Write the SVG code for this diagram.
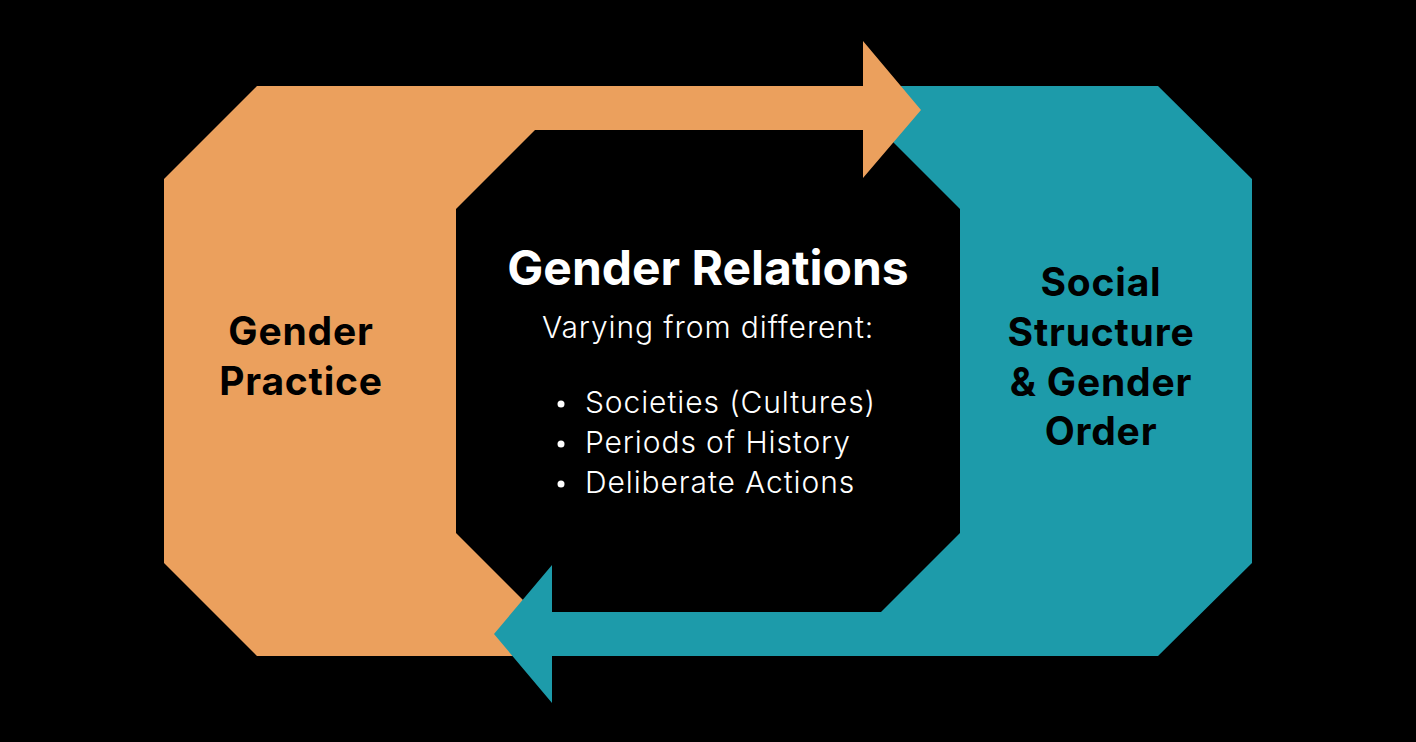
<svg xmlns="http://www.w3.org/2000/svg" width="1416" height="742" viewBox="0 0 1416 742">
<style>
.orange{fill:#EBA05D}
.teal{fill:#1D9BAA}
.lbl{font-family:Inter,"Open Sans","Liberation Sans",sans-serif;font-weight:700;fill:#000;text-anchor:middle;font-size:39px;letter-spacing:0.8px}
.title{font-family:Inter,"Open Sans","Liberation Sans",sans-serif;font-weight:700;fill:#fff;text-anchor:middle;font-size:48px}
.body{font-family:Inter,"Open Sans","Liberation Sans",sans-serif;font-weight:300;fill:#fff;font-size:30px;letter-spacing:0.9px}
</style>
<rect width="1416" height="742" fill="#000"/>
<g id="gender-practice">
<polygon class="orange" points="257,86 720,86 720,130 535,130 456,209 456,533 535,612 560,612 560,656 257,656 164,563 164,179"/>
<text class="lbl" x="301" y="345">Gender</text>
<text class="lbl" x="301" y="395">Practice</text>
</g>
<g id="social-structure">
<polygon class="teal" points="836,86 1158,86 1252,179 1252,563 1158,656 700,656 700,612 881,612 960,533 960,209 881,130"/>
<text class="lbl" x="1101" y="296">Social</text>
<text class="lbl" x="1101" y="346">Structure</text>
<text class="lbl" x="1101" y="396">&amp; Gender</text>
<text class="lbl" x="1101" y="445">Order</text>
</g>
<g id="connectors">
<polygon class="orange" points="600,86 863,86 863,41 921,110 863,178 863,130 600,130"/>
<polygon class="teal" points="800,612 552,612 552,565 494,634 552,703 552,656 800,656"/>
</g>
<g id="gender-relations">
<text class="title" x="708" y="285">Gender Relations</text>
<text class="body" x="708" y="338" text-anchor="middle">Varying from different:</text>
<circle cx="561" cy="404" r="3.5" fill="#fff"/>
<text class="body" x="585" y="413">Societies (Cultures)</text>
<circle cx="561" cy="444" r="3.5" fill="#fff"/>
<text class="body" x="585" y="453">Periods of History</text>
<circle cx="561" cy="484" r="3.5" fill="#fff"/>
<text class="body" x="585" y="493">Deliberate Actions</text>
</g>
</svg>
